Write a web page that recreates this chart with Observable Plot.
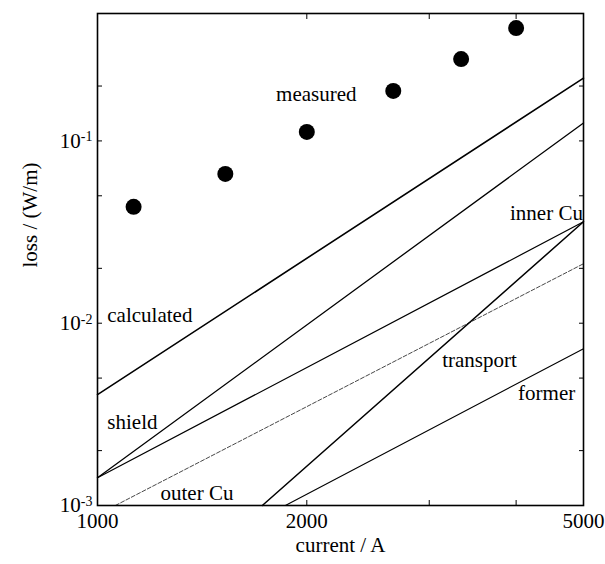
<!DOCTYPE html>
<html><head><meta charset="utf-8">
<script src="https://cdn.jsdelivr.net/npm/d3@7"></script>
<script src="https://cdn.jsdelivr.net/npm/@observablehq/plot@0.6"></script>
<style>body{margin:0;background:#fff}</style>
</head><body><div id="chart"></div>
<script>
// measured points
const measuredCurrent = [1127, 1527, 2000, 2663, 3334, 4000];
const measuredLoss = [0.0435, 0.0659, 0.112, 0.188, 0.281, 0.416];

// calculated power-law lines (start and end points)
const seriesNames = ["calculated", "shield", "inner Cu", "outer Cu", "transport", "former"];
const startCurrent = [1000, 1000, 1000, 1061, 1726, 1863];
const startLoss = [0.00406, 0.00142, 0.00142, 0.001, 0.001, 0.001];
const endCurrent = [5000, 5000, 5000, 5000, 5000, 5000];
const endLoss = [0.221, 0.1255, 0.036, 0.0212, 0.036, 0.00725];

// annotation labels
const labelText = ["measured", "calculated", "shield", "outer Cu", "inner Cu", "transport", "former"];
const labelCurrent = [2064, 1033, 1033, 1232, 4990, 3131, 4026];
const labelLoss = [0.18, 0.011, 0.00285, 0.001164, 0.0403, 0.00623, 0.00411];
const labelAnchor = ["middle", "start", "start", "start", "end", "start", "start"];

// ticks
const xMajorTicks = [1000, 2000, 5000];
const xMinorTicks = [3000, 4000];
const yMajorTicks = [0.001, 0.01, 0.1];
const yMinorTicks = [0.002, 0.005, 0.02, 0.05, 0.2];
const yTickExponent = {0.001: "-3", 0.01: "-2", 0.1: "-1"};

const style = {
  "calculated": {w: 1.6, dash: null, color: "#000"},
  "shield": {w: 1.3, dash: null, color: "#000"},
  "inner Cu": {w: 1.2, dash: null, color: "#000"},
  "outer Cu": {w: 0.9, dash: "4,2", color: "#333"},
  "transport": {w: 1.5, dash: null, color: "#000"},
  "former": {w: 1.1, dash: null, color: "#000"}
};

const measured = measuredCurrent.map((c, i) => ({current: c, loss: measuredLoss[i]}));
const segs = seriesNames.flatMap((name, i) => [
  {name, current: startCurrent[i], loss: startLoss[i]},
  {name, current: endCurrent[i], loss: endLoss[i]}
]);
const labels = labelText.map((t, i) => ({text: t, current: labelCurrent[i], loss: labelLoss[i], anchor: labelAnchor[i]}));

const lineMarks = seriesNames.map(name => Plot.line(segs.filter(d => d.name === name), {
  x: "current", y: "loss", stroke: style[name].color, strokeWidth: style[name].w,
  strokeDasharray: style[name].dash
}));

const labelMarks = ["start", "middle", "end"].map(a => Plot.text(labels.filter(d => d.anchor === a), {
  x: "current", y: "loss", text: "text", textAnchor: a, fontSize: 21
}));

const chart = Plot.plot({
  width: 605,
  height: 564,
  marginLeft: 97,
  marginRight: 22,
  marginTop: 13,
  marginBottom: 59,
  style: {fontFamily: "'Liberation Serif', 'Times New Roman', serif", fontSize: "21px", background: "#fff", color: "#000"},
  x: {type: "log", domain: [1000, 5000], label: null},
  y: {type: "log", domain: [0.001, 0.5], label: null},
  marks: [
    ...lineMarks,
    Plot.dot(measured, {x: "current", y: "loss", r: 8, fill: "#000", stroke: null}),
    ...labelMarks,
    Plot.axisX(xMajorTicks, {anchor: "bottom", tickSize: -5, tickPadding: 13, tickFormat: d => String(d), fontSize: 21, label: null}),
    Plot.axisX(xMinorTicks, {anchor: "bottom", tickSize: -5, tickFormat: () => "", label: null}),
    Plot.axisX([...xMajorTicks, ...xMinorTicks], {anchor: "top", tickSize: -5, tickFormat: () => "", label: null}),
    Plot.axisY(yMajorTicks, {anchor: "left", tickSize: -5, tickPadding: 10, tickFormat: d => "10^" + yTickExponent[d], fontSize: 21, label: null}),
    Plot.axisY(yMinorTicks, {anchor: "left", tickSize: -5, tickFormat: () => "", label: null}),
    Plot.axisY([...yMajorTicks, ...yMinorTicks], {anchor: "right", tickSize: -5, tickFormat: () => "", label: null}),
    Plot.frame({stroke: "#000", strokeWidth: 1.6}),
    Plot.text(["current / A"], {frameAnchor: "bottom", dy: 46, fontSize: 21}),
    Plot.text(["loss / (W/m)"], {frameAnchor: "left", dx: -67, dy: 8, rotate: -90, fontSize: 21})
  ]
});

// render "10^-n" tick labels with a raised, smaller exponent
d3.select(chart).selectAll("text").each(function () {
  const t = this.textContent;
  const m = /^10\^(-\d)$/.exec(t);
  if (!m) return;
  const sel = d3.select(this);
  sel.text(null);
  sel.append("tspan").text("10");
  sel.append("tspan").attr("dy", "-0.45em").attr("font-size", "14px").text(m[1]);
});
document.getElementById("chart").appendChild(chart);
</script>
</body></html>
